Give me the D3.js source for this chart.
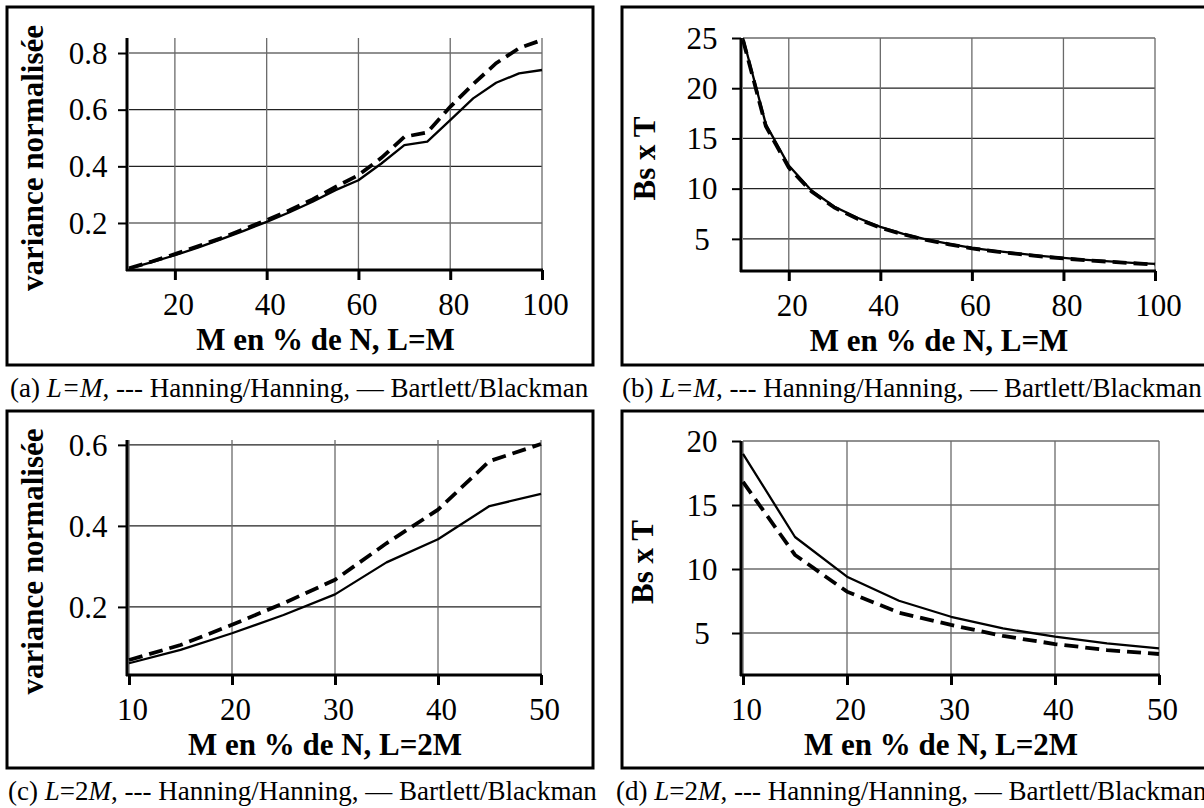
<!DOCTYPE html>
<html><head><meta charset="utf-8">
<script src="https://cdn.jsdelivr.net/npm/d3@7"></script>
<style>
html,body{margin:0;padding:0;background:#fff;}
svg{display:block;font-family:"Liberation Serif","Times New Roman",serif;}
</style></head>
<body><svg id="c" width="1204" height="808"></svg>
<script>
// ---- data ----
const mLM = [10,15,20,25,30,35,40,45,50,55,60,65,70,75,80,85,90,95,100];
const varHanLM = [0.040,0.064,0.090,0.118,0.146,0.178,0.210,0.245,0.283,0.327,0.369,0.430,0.504,0.520,0.610,0.690,0.764,0.817,0.846];
const varBarLM = [0.039,0.062,0.086,0.113,0.142,0.172,0.204,0.238,0.275,0.316,0.351,0.410,0.475,0.487,0.563,0.640,0.695,0.728,0.740];
const bstHanLM = [24.8,16.2,12.1,9.7,8.1,7.0,6.1,5.45,4.9,4.45,4.05,3.75,3.5,3.25,3.05,2.88,2.72,2.58,2.45];
const bstBarLM = [25.0,16.4,12.3,9.8,8.2,7.1,6.2,5.5,4.95,4.5,4.1,3.8,3.55,3.3,3.1,2.9,2.75,2.6,2.5];

const mL2M = [10,15,20,25,30,35,40,45,50];
const varHanL2M = [0.069,0.106,0.156,0.209,0.267,0.357,0.440,0.560,0.602];
const varBarL2M = [0.061,0.094,0.135,0.180,0.231,0.310,0.367,0.449,0.479];
const bstHanL2M = [16.8,11.1,8.23,6.59,5.63,4.77,4.14,3.67,3.36];
const bstBarL2M = [19.0,12.5,9.4,7.52,6.27,5.36,4.71,4.19,3.80];

const xTicksLM = [20,40,60,80,100];
const xTicksL2M = [10,20,30,40,50];
const yTicksVarLM = [0.2,0.4,0.6,0.8];
const yTicksBstLM = [5,10,15,20,25];
const yTicksVarL2M = [0.2,0.4,0.6];
const yTicksBstL2M = [5,10,15,20];

const yTitles = ["variance normalisée","Bs x T"];
const xTitles = ["M en % de N, L=M","M en % de N, L=2M"];
const captionTail = ", --- Hanning/Hanning, \u2014 Bartlett/Blackman";

// ---- layout ----
const panels = [
  {frame:[7,7,593,365], plot:[129,542,38,270], xd:[10,100], yd:[0.034,0.853], xs:mLM, han:varHanLM, bar:varBarLM,
   xt:xTicksLM, yt:yTicksVarLM, yTitle:yTitles[0], xTitle:xTitles[0], fmt:d3.format(".1f"),
   cap:{x:10,y:397,tag:"(a) ",parts:[["L=M",true]]}, ytx:43},
  {frame:[622,7,1212,365], plot:[743,1155,38,271], xd:[10,100], yd:[1.8,25], xs:mLM, han:bstHanLM, bar:bstBarLM,
   xt:xTicksLM, yt:yTicksBstLM, yTitle:yTitles[1], xTitle:xTitles[0], fmt:d3.format("d"),
   cap:{x:622,y:397,tag:"(b) ",parts:[["L=M",true]]}, ytx:655},
  {frame:[7,411,593,768], plot:[129,541,440,675], xd:[10,50], yd:[0.032,0.612], xs:mL2M, han:varHanL2M, bar:varBarL2M,
   xt:xTicksL2M, yt:yTicksVarL2M, yTitle:yTitles[0], xTitle:xTitles[1], fmt:d3.format(".1f"),
   cap:{x:8,y:800,tag:"(c) ",parts:[["L",true],["=2",false],["M",true]]}, ytx:43},
  {frame:[622,411,1212,768], plot:[743,1159,441,675], xd:[10,50], yd:[1.72,20], xs:mL2M, han:bstHanL2M, bar:bstBarL2M,
   xt:xTicksL2M, yt:yTicksBstL2M, yTitle:yTitles[1], xTitle:xTitles[1], fmt:d3.format("d"),
   cap:{x:616,y:800,tag:"(d) ",parts:[["L",true],["=2",false],["M",true]]}, ytx:653}
];

const svg = d3.select("#c");
const TICKFONT = 31, TITLEFONT = 31, CAPFONT = 27;

panels.forEach(p => {
  const g = svg.append("g");
  const [fx0,fy0,fx1,fy1] = p.frame;
  g.append("rect").attr("x",fx0).attr("y",fy0).attr("width",fx1-fx0).attr("height",fy1-fy0)
    .attr("fill","none").attr("stroke","#000").attr("stroke-width",3);

  const [px0,px1,py0,py1] = p.plot;
  const x = d3.scaleLinear().domain(p.xd).range([px0,px1]);
  const y = d3.scaleLinear().domain(p.yd).range([py1,py0]);

  // gridlines
  g.append("g").selectAll("line").data(p.yt).join("line")
    .attr("x1",px0).attr("x2",px1).attr("y1",d=>y(d)).attr("y2",d=>y(d))
    .attr("stroke","#222").attr("stroke-width",1.2);
  g.append("g").selectAll("line").data(p.xt).join("line")
    .attr("x1",d=>x(d)).attr("x2",d=>x(d)).attr("y1",py1).attr("y2",py0)
    .attr("stroke","#6a6a6a").attr("stroke-width",1.3);

  // data lines
  const line = (vals) => d3.line().x((d,i)=>x(p.xs[i])).y(d=>y(d))(vals);
  g.append("path").attr("d",line(p.bar)).attr("fill","none").attr("stroke","#000")
    .attr("stroke-width",2.3).attr("stroke-linejoin","round");
  g.append("path").attr("d",line(p.han)).attr("fill","none").attr("stroke","#000")
    .attr("stroke-width",3.8).attr("stroke-dasharray","14,7");

  // x axis
  const xa = g.append("g").attr("transform",`translate(0,${py1})`)
    .call(d3.axisBottom(x).tickValues(p.xt).tickSizeOuter(0).tickSize(10).tickPadding(13).tickFormat(d3.format("d")));
  xa.select(".domain").attr("stroke","#000").attr("stroke-width",3).attr("d",`M${px0-3},0H${px1+1}`);
  xa.selectAll(".tick line").attr("stroke","#000").attr("stroke-width",3);
  xa.selectAll(".tick text").attr("font-size",TICKFONT).attr("font-family","Liberation Serif").attr("fill","#000")
    .attr("dx",3);

  // y axis
  const ya = g.append("g").attr("transform",`translate(${px0-2},0)`)
    .call(d3.axisLeft(y).tickValues(p.yt).tickSizeOuter(0).tickSize(9).tickFormat(p.fmt));
  ya.select(".domain").attr("stroke","#000").attr("stroke-width",3).attr("d",`M0,${py1+1}V${py0}`);
  ya.selectAll(".tick line").attr("stroke","#000").attr("stroke-width",2);
  ya.selectAll(".tick text").attr("font-size",TICKFONT).attr("font-family","Liberation Serif").attr("fill","#000")
    .attr("text-anchor","middle").attr("x",-39).attr("dy","0.33em");

  // titles
  g.append("text").attr("x",(px0+px1)/2-10).attr("y",py1+80).attr("text-anchor","middle")
    .attr("font-size",TITLEFONT).attr("font-weight","bold").text(p.xTitle);
  g.append("text").attr("transform",`translate(${p.ytx},${(py0+py1)/2+4}) rotate(-90)`)
    .attr("text-anchor","middle").attr("font-size",TITLEFONT).attr("font-weight","bold").text(p.yTitle);

  // caption
  const t = svg.append("text").attr("x",p.cap.x).attr("y",p.cap.y).attr("font-size",CAPFONT);
  t.append("tspan").text(p.cap.tag);
  p.cap.parts.forEach(([s,it]) => t.append("tspan").attr("font-style",it?"italic":"normal").text(s));
  t.append("tspan").text(captionTail);
});
</script></body></html>
